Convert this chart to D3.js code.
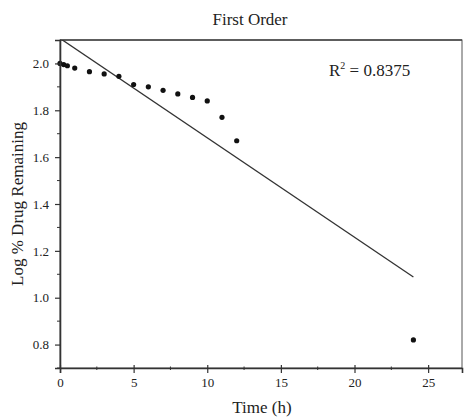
<!DOCTYPE html>
<html lang="en">
<head>
<meta charset="UTF-8">
<title>First Order</title>
<script src="https://d3js.org/d3.v7.min.js"></script>
<style>
  body { margin: 0; background: #fff; }
  svg text { font-family: "Liberation Serif", "Times New Roman", serif; fill: #222; }
</style>
</head>
<body>
<div id="chart"></div>
<script>
// release data: time (h) vs log % drug remaining
const timeH = [0, 0.25, 0.5, 1, 2, 3, 4, 5, 6, 7, 8, 9, 10, 11, 12, 24];
const logRemaining = [2.0, 1.995, 1.99, 1.98, 1.965, 1.955, 1.945, 1.91, 1.90, 1.885, 1.87, 1.855, 1.84, 1.77, 1.67, 0.82];
const xTicks = [0, 5, 10, 15, 20, 25];
const yTicks = [0.8, 1.0, 1.2, 1.4, 1.6, 1.8, 2.0];
const r2Label = "0.8375";

const width = 464, height = 419;
const margin = { top: 40, right: 2, bottom: 51, left: 60 };

const svg = d3.select("#chart").append("svg")
    .attr("width", width)
    .attr("height", height);

const x = d3.scaleLinear().domain([0, 27.3]).range([margin.left, width - margin.right]);
const y = d3.scaleLinear().domain([0.7, 2.1]).range([height - margin.bottom, margin.top]);

// least-squares fit of the points
const n = timeH.length;
const mx = d3.mean(timeH), my = d3.mean(logRemaining);
let sxy = 0, sxx = 0;
for (let i = 0; i < n; i++) {
    sxy += (timeH[i] - mx) * (logRemaining[i] - my);
    sxx += (timeH[i] - mx) ** 2;
}
const slope = sxy / sxx;
const intercept = my - slope * mx;

// frame
svg.append("rect")
    .attr("x", x(0)).attr("y", y(2.1))
    .attr("width", x(27.3) - x(0)).attr("height", y(0.7) - y(2.1))
    .attr("fill", "none").attr("stroke", "#555").attr("stroke-width", 1);
svg.append("line")
    .attr("x1", x(0)).attr("x2", x(27.3))
    .attr("y1", y(2.1)).attr("y2", y(2.1))
    .attr("stroke", "#444").attr("stroke-width", 1.4);

svg.append("clipPath").attr("id", "plot")
  .append("rect")
    .attr("x", x(0)).attr("y", y(2.1))
    .attr("width", x(27.3) - x(0)).attr("height", y(0.7) - y(2.1));

// fitted line
const tMax = d3.max(timeH);
svg.append("line")
    .attr("clip-path", "url(#plot)")
    .attr("x1", x(0)).attr("y1", y(intercept))
    .attr("x2", x(tMax)).attr("y2", y(intercept + slope * tMax))
    .attr("stroke", "#333").attr("stroke-width", 1.3);

// points
svg.selectAll(".pt")
    .data(timeH.map((t, i) => [t, logRemaining[i]]))
    .enter().append("circle")
    .attr("class", "pt")
    .attr("cx", d => x(d[0]))
    .attr("cy", d => y(d[1]))
    .attr("r", 2.6)
    .attr("fill", "#111");

// x axis: major ticks cross the line, minor ticks are short
const xAxis = svg.append("g").attr("transform", `translate(0,${y(0.7)})`);
xAxis.call(d3.axisBottom(x).tickValues(xTicks).tickSize(5).tickPadding(5).tickFormat(d3.format("d")));
xAxis.selectAll(".tick line").attr("y1", -3);
xAxis.selectAll(".minor")
    .data(d3.range(2.5, 27.3, 5))
    .enter().append("line")
    .attr("class", "minor")
    .attr("x1", d => x(d)).attr("x2", d => x(d))
    .attr("y1", -1.5).attr("y2", 2)
    .attr("stroke", "#333");

// y axis with minor ticks
const yAxis = svg.append("g").attr("transform", `translate(${x(0)},0)`);
yAxis.call(d3.axisLeft(y).tickValues(yTicks).tickSize(5).tickPadding(6).tickFormat(d3.format(".1f")));
yAxis.selectAll(".minor")
    .data(d3.range(0.7, 2.1, 0.2))
    .enter().append("line")
    .attr("class", "minor")
    .attr("y1", d => y(d)).attr("y2", d => y(d))
    .attr("x1", 0).attr("x2", -3)
    .attr("stroke", "#333");

[xAxis, yAxis].forEach(g => {
    g.select(".domain").attr("stroke", "#333").attr("stroke-width", 1.6);
    g.selectAll(".tick line").attr("stroke", "#333").attr("stroke-width", 1.2);
    g.selectAll(".tick text").attr("font-size", 13).attr("fill", "#333")
        .style("font-family", "'Liberation Serif', serif");
});

// title and labels
svg.append("text")
    .attr("x", 250).attr("y", 25)
    .attr("text-anchor", "middle")
    .attr("font-size", 17)
    .text("First Order");

svg.append("text")
    .attr("x", 262).attr("y", 413)
    .attr("text-anchor", "middle")
    .attr("font-size", 17)
    .text("Time (h)");

svg.append("text")
    .attr("transform", "translate(23,204) rotate(-90)")
    .attr("text-anchor", "middle")
    .attr("font-size", 17)
    .text("Log % Drug Remaining");

const r2 = svg.append("text")
    .attr("x", 329).attr("y", 76)
    .attr("font-size", 17);
r2.append("tspan").text("R");
r2.append("tspan").attr("dy", -7).attr("font-size", 10).text("2");
r2.append("tspan").attr("dy", 7).text(" = " + r2Label);
</script>
</body>
</html>
